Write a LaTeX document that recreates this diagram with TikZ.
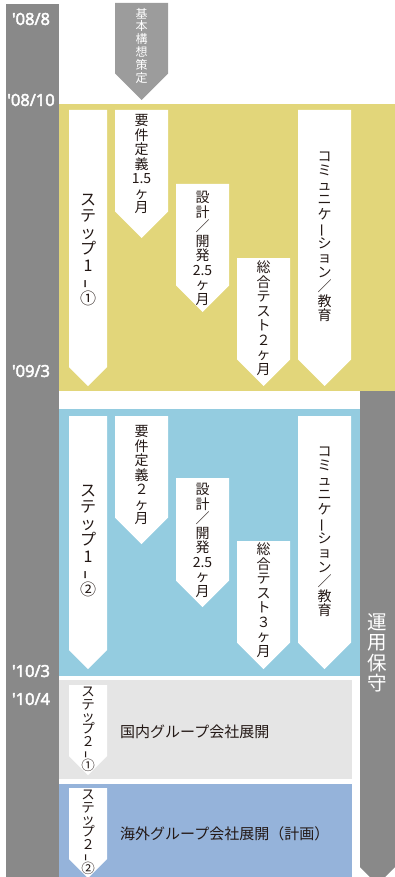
\documentclass[tikz,border=0pt]{standalone}
\usepackage{fontspec}
\usepackage{graphicx}
\setmainfont{Noto Sans CJK JP}
\newfontfamily\jpf{Noto Sans CJK JP}
\newfontfamily\datef[FakeBold=3]{Open Sans}
\definecolor{colgray}{HTML}{898989}
\definecolor{arrgray}{HTML}{9C9C9C}
\definecolor{yel}{HTML}{E2D67A}
\definecolor{blu}{HTML}{94CCE0}
\definecolor{lgray}{HTML}{E5E5E5}
\definecolor{sblue}{HTML}{95B3DA}
\definecolor{ink}{HTML}{231815}
\newcommand\vlong{\rotatebox[origin=c]{90}{ー}}
\newcommand\vdsh{\raisebox{0.15em}{\scalebox{1}[0.55]{\rotatebox[origin=c]{90}{ー}}}}
\newcommand\darrow[5]{\fill[#1] (#2,#4) -- (#3,#4) -- ({#3},{#5-(#3-#2)/2}) -- ({(#2+#3)/2},#5) -- ({#2},{#5-(#3-#2)/2}) -- cycle;}
\tikzset{
  vtext/.style={inner sep=0pt, align=center, text=ink, font={\jpf\fontsize{14}{14.5}\selectfont\lineskiplimit=-20pt}},
  vstep/.style={inner sep=0pt, align=center, text=ink, font={\jpf\fontsize{16}{16.5}\selectfont\lineskiplimit=-20pt}},
  vsmall/.style={inner sep=0pt, align=center, text=ink, font={\jpf\fontsize{13.5}{12.3}\selectfont\lineskiplimit=-20pt}},
  datelbl/.style={inner sep=0pt, text=white, font={\datef\fontsize{16.5}{18}\selectfont}},
  rowlbl/.style={inner sep=0pt, anchor=west, text=ink, font={\jpf\fontsize{15}{17}\selectfont}}
}
\begin{document}
\begin{tikzpicture}[x=1pt,y=-1pt]
\useasboundingbox (0,0) rectangle (395,877);
\clip (0,0) rectangle (395,877);
% background bands
\fill[colgray] (6,4) rectangle (59,877);
\fill[yel] (59,104) rectangle (395,391);
\fill[blu] (59,409) rectangle (360,676);
\fill[lgray] (59,680) rectangle (352,779);
\fill[sblue] (59,784) rectangle (352,877);
\fill[colgray] (360,391) -- (395,391) -- (395,867) -- (377.5,884.5) -- (360,867) -- cycle;
% top arrow
\darrow{arrgray}{115}{168}{3}{100}
% yellow arrows
\darrow{white}{69}{107}{110}{386}
\darrow{white}{115}{168}{110}{238}
\darrow{white}{176}{229}{184}{312}
\darrow{white}{237}{290}{258}{386}
\darrow{white}{298}{351}{110}{386}
% blue arrows
\darrow{white}{69}{107}{416}{669}
\darrow{white}{115}{168}{416}{544}
\darrow{white}{176}{229}{478}{607}
\darrow{white}{237}{290}{541}{669}
\darrow{white}{298}{351}{416}{669}
% row arrows
\darrow{white}{69}{107}{685}{775}
\darrow{white}{69}{107}{788}{878}
% dates
\node[datelbl] (d1) at (31,19) {'08/8};
\node[datelbl] (d2) at (31,100) {'08/10};
\node[datelbl] (d3) at (31,371) {'09/3};
\node[datelbl] (d4) at (31,671) {'10/3};
\node[datelbl] (d5) at (31,699) {'10/4};
% gray arrow texts
\node[inner sep=0pt, align=center, text=white, font={\jpf\fontsize{12}{12.8}\selectfont\lineskiplimit=-20pt}] (kihon) at (141.5,45.5) {基\\本\\構\\想\\策\\定};
\node[inner sep=0pt, align=center, text=white, font={\jpf\fontsize{19.5}{20.5}\selectfont\lineskiplimit=-20pt}] (unyo) at (377.5,653) {運\\用\\保\\守};
% yellow texts
\node[vstep] (s11) at (88,250) {ス\\テ\\ッ\\プ\\1\\\vdsh\\①};
\node[vtext] (y2) at (141.5,164) {要\\件\\定\\義\\1.5\\ヶ\\月};
\node[vtext] (y3) at (202.5,248.5) {設\\計\\／\\開\\発\\2.5\\ヶ\\月};
\node[vtext] (y4) at (263.5,318) {総\\合\\テ\\ス\\ト\\２\\ヶ\\月};
\node[vtext] (y5) at (324.5,237) {コ\\ミ\\ュ\\ニ\\ケ\\\vlong\\シ\\ョ\\ン\\／\\教\\育};
% blue texts
\node[vstep] (s12) at (88,541) {ス\\テ\\ッ\\プ\\1\\\vdsh\\②};
\node[vtext] (b2) at (141.5,475) {要\\件\\定\\義\\２\\ヶ\\月};
\node[vtext] (b3) at (202.5,540.5) {設\\計\\／\\開\\発\\2.5\\ヶ\\月};
\node[vtext] (b4) at (263.5,600) {総\\合\\テ\\ス\\ト\\３\\ヶ\\月};
\node[vtext] (b5) at (324.5,532) {コ\\ミ\\ュ\\ニ\\ケ\\\vlong\\シ\\ョ\\ン\\／\\教\\育};
% rows
\node[vsmall] (s21) at (88,729.5) {ス\\テ\\ッ\\プ\\２\\\vdsh\\①};
\node[vsmall] (s22) at (88,832.5) {ス\\テ\\ッ\\プ\\２\\\vdsh\\②};
\node[rowlbl] (r1) at (120,731.5) {国内グループ会社展開};
\node[rowlbl] (r2) at (120,833.5) {海外グループ会社展開（計画）};
\end{tikzpicture}
\end{document}
